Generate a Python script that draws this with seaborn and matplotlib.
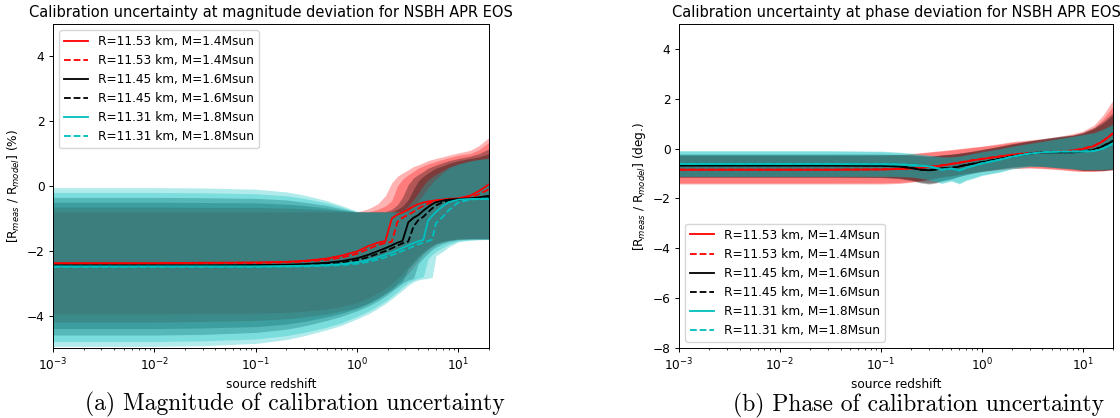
import numpy as np
import matplotlib
matplotlib.use("Agg")
import matplotlib.pyplot as plt
import seaborn as sns

# ---------------- data: magnitude panel ----------------
z_mag = [0.001, 0.003, 0.01, 0.03, 0.1, 0.2, 0.3, 0.5, 0.7, 1.0, 1.3, 1.6, 1.9, 2.2, 2.5,
         2.8, 3.2, 3.6, 4.0, 4.5, 5.0, 5.5, 6.0, 7.0, 8.0, 10.0, 13.0, 16.0, 20.0]

mag_r_med = [-2.38, -2.38, -2.38, -2.37, -2.36, -2.34, -2.31, -2.24, -2.15, -2.02, -1.85, -1.75, -1.70, -1.00, -0.88,
             -0.82, -0.72, -0.63, -0.56, -0.51, -0.48, -0.46, -0.44, -0.42, -0.40, -0.38, -0.30, -0.15, 0.05]
mag_r2_med = [-2.40, -2.40, -2.40, -2.39, -2.38, -2.36, -2.33, -2.28, -2.21, -2.09, -1.94, -1.82, -1.76, -1.72, -1.10,
              -0.98, -0.88, -0.80, -0.70, -0.61, -0.55, -0.50, -0.47, -0.45, -0.43, -0.40, -0.35, -0.25, -0.10]
mag_k_med = [-2.45, -2.45, -2.45, -2.45, -2.44, -2.43, -2.41, -2.37, -2.32, -2.23, -2.12, -2.01, -1.92, -1.83, -1.75,
             -1.70, -1.12, -0.98, -0.90, -0.76, -0.65, -0.56, -0.50, -0.45, -0.42, -0.40, -0.38, -0.35, -0.30]
mag_k2_med = [-2.47, -2.47, -2.47, -2.47, -2.46, -2.45, -2.44, -2.41, -2.37, -2.29, -2.19, -2.09, -2.01, -1.92, -1.84,
              -1.77, -1.71, -1.25, -1.06, -0.95, -0.81, -0.69, -0.60, -0.50, -0.45, -0.42, -0.40, -0.38, -0.35]
mag_c_med = [-2.48, -2.48, -2.48, -2.48, -2.48, -2.47, -2.46, -2.44, -2.41, -2.35, -2.28, -2.20, -2.12, -2.05, -1.98,
             -1.91, -1.83, -1.76, -1.71, -1.66, -1.08, -0.92, -0.80, -0.62, -0.50, -0.42, -0.40, -0.40, -0.40]
mag_c2_med = [-2.50, -2.50, -2.50, -2.50, -2.50, -2.49, -2.48, -2.46, -2.44, -2.40, -2.34, -2.27, -2.20, -2.13, -2.07,
              -2.00, -1.93, -1.86, -1.80, -1.75, -1.70, -1.65, -1.15, -0.95, -0.75, -0.50, -0.42, -0.40, -0.38]

mag_r_hi = [-0.80, -0.80, -0.80, -0.80, -0.80, -0.80, -0.80, -0.80, -0.80, -0.80, -0.70, -0.55, -0.30, 0.10, 0.30,
            0.40, 0.50, 0.60, 0.65, 0.72, 0.78, 0.82, 0.85, 0.90, 0.95, 1.02, 1.10, 1.25, 1.50]
mag_r2_hi = [-0.65, -0.65, -0.65, -0.66, -0.66, -0.68, -0.70, -0.74, -0.77, -0.80, -0.80, -0.72, -0.62, -0.45, 0.00,
             0.20, 0.35, 0.45, 0.55, 0.62, 0.68, 0.72, 0.76, 0.82, 0.87, 0.95, 1.00, 1.12, 1.35]
mag_k_hi = [-0.50, -0.50, -0.50, -0.51, -0.52, -0.56, -0.60, -0.68, -0.75, -0.80, -0.80, -0.80, -0.80, -0.72, -0.58,
            -0.35, 0.05, 0.25, 0.35, 0.45, 0.55, 0.60, 0.65, 0.72, 0.78, 0.85, 0.92, 1.00, 1.15]
mag_k2_hi = [-0.35, -0.35, -0.35, -0.36, -0.38, -0.43, -0.50, -0.60, -0.70, -0.80, -0.80, -0.80, -0.80, -0.80, -0.72,
             -0.62, -0.42, -0.10, 0.15, 0.30, 0.40, 0.48, 0.55, 0.62, 0.70, 0.78, 0.85, 0.90, 1.00]
mag_c_hi = [-0.20, -0.20, -0.20, -0.21, -0.24, -0.30, -0.38, -0.52, -0.65, -0.80, -0.80, -0.80, -0.80, -0.80, -0.80,
            -0.76, -0.62, -0.42, -0.22, 0.02, 0.18, 0.28, 0.36, 0.48, 0.58, 0.68, 0.76, 0.82, 0.86]
mag_c2_hi = [-0.05, -0.05, -0.05, -0.06, -0.10, -0.18, -0.28, -0.45, -0.60, -0.78, -0.80, -0.80, -0.80, -0.80, -0.80,
             -0.80, -0.78, -0.62, -0.46, -0.26, -0.06, 0.10, 0.22, 0.40, 0.55, 0.68, 0.78, 0.82, 0.85]

mag_r_lo = [-3.95, -3.95, -3.95, -3.94, -3.93, -3.90, -3.87, -3.80, -3.72, -3.60, -3.45, -3.30, -3.15, -3.00, -2.85,
            -2.70, -2.50, -2.30, -2.15, -2.00, -1.90, -1.82, -1.76, -1.70, -1.66, -1.62, -1.62, -1.62, -1.62]
mag_r2_lo = [-4.20, -4.20, -4.20, -4.18, -4.15, -4.10, -4.04, -3.95, -3.86, -3.74, -3.60, -3.45, -3.30, -3.15, -3.00,
             -2.85, -2.70, -2.50, -2.30, -2.10, -1.98, -1.88, -1.80, -1.73, -1.68, -1.64, -1.63, -1.63, -1.63]
mag_k_lo = [-4.40, -4.40, -4.40, -4.38, -4.34, -4.26, -4.18, -4.04, -3.93, -3.78, -3.63, -3.48, -3.33, -3.20, -3.05,
            -2.95, -2.55, -2.38, -2.22, -2.06, -1.95, -1.85, -1.79, -1.72, -1.68, -1.64, -1.63, -1.63, -1.63]
mag_k2_lo = [-4.60, -4.60, -4.60, -4.58, -4.52, -4.42, -4.32, -4.15, -4.02, -3.85, -3.70, -3.55, -3.40, -3.25, -3.12,
             -3.00, -2.90, -2.85, -2.40, -2.22, -2.08, -1.96, -1.88, -1.78, -1.72, -1.66, -1.64, -1.64, -1.64]
mag_c_lo = [-4.80, -4.80, -4.80, -4.78, -4.72, -4.62, -4.52, -4.36, -4.22, -4.02, -3.86, -3.70, -3.55, -3.40, -3.26,
            -3.12, -2.98, -2.90, -2.85, -2.80, -2.25, -2.12, -2.02, -1.90, -1.80, -1.70, -1.66, -1.65, -1.65]
mag_c2_lo = [-4.95, -4.95, -4.95, -4.93, -4.86, -4.74, -4.62, -4.44, -4.30, -4.10, -3.94, -3.78, -3.63, -3.48, -3.34,
             -3.22, -3.06, -2.96, -2.90, -2.87, -2.85, -2.82, -2.15, -2.02, -1.88, -1.72, -1.68, -1.66, -1.65]

# ---------------- data: phase panel ----------------
z_phase = [0.001, 0.003, 0.01, 0.03, 0.1, 0.15, 0.2, 0.25, 0.3, 0.35, 0.4, 0.5, 0.6, 0.7, 0.85, 1.0,
           1.5, 2.0, 3.0, 4.0, 6.0, 8.0, 10.0, 13.0, 16.0, 20.0]

ph_r_med = [-0.85, -0.85, -0.85, -0.85, -0.84, -0.82, -0.80, -0.77, -0.74, -0.71, -0.68, -0.62, -0.57, -0.52, -0.46,
            -0.42, -0.32, -0.25, -0.18, -0.15, -0.12, -0.08, -0.02, 0.10, 0.30, 0.60]
ph_r2_med = [-0.84, -0.84, -0.84, -0.84, -0.83, -0.81, -0.79, -0.76, -0.73, -0.70, -0.67, -0.61, -0.56, -0.51, -0.45,
             -0.41, -0.31, -0.24, -0.17, -0.14, -0.11, -0.07, 0.00, 0.12, 0.32, 0.62]
ph_k_med = [-0.68, -0.68, -0.68, -0.68, -0.69, -0.72, -0.78, -0.85, -0.87, -0.84, -0.80, -0.78, -0.72, -0.66, -0.60,
            -0.55, -0.42, -0.32, -0.20, -0.15, -0.15, -0.15, -0.12, -0.05, 0.10, 0.30]
ph_k2_med = [-0.67, -0.67, -0.67, -0.67, -0.68, -0.71, -0.77, -0.84, -0.86, -0.83, -0.79, -0.77, -0.71, -0.65, -0.59,
             -0.54, -0.41, -0.31, -0.19, -0.14, -0.14, -0.14, -0.11, -0.04, 0.11, 0.32]
ph_c_med = [-0.62, -0.62, -0.62, -0.62, -0.63, -0.64, -0.66, -0.69, -0.72, -0.78, -0.85, -0.80, -0.88, -0.78, -0.68,
            -0.60, -0.45, -0.33, -0.20, -0.15, -0.12, -0.12, -0.12, -0.10, 0.00, 0.20]
ph_c2_med = [-0.61, -0.61, -0.61, -0.61, -0.62, -0.63, -0.65, -0.68, -0.71, -0.77, -0.84, -0.79, -0.87, -0.77, -0.67,
             -0.59, -0.44, -0.32, -0.19, -0.14, -0.11, -0.11, -0.11, -0.09, 0.01, 0.21]

ph_r_hi = [-0.27, -0.27, -0.27, -0.27, -0.26, -0.24, -0.20, -0.16, -0.13, -0.10, -0.08, -0.04, 0.00, 0.03, 0.07,
           0.10, 0.20, 0.28, 0.35, 0.40, 0.50, 0.60, 0.70, 0.95, 1.35, 1.95]
ph_r2_hi = [-0.28, -0.28, -0.28, -0.28, -0.27, -0.25, -0.22, -0.18, -0.15, -0.12, -0.10, -0.06, -0.02, 0.01, 0.05,
            0.08, 0.17, 0.25, 0.32, 0.37, 0.46, 0.55, 0.64, 0.85, 1.20, 1.70]
ph_k_hi = [-0.22, -0.22, -0.22, -0.22, -0.22, -0.23, -0.25, -0.28, -0.30, -0.28, -0.25, -0.22, -0.18, -0.14, -0.08,
           -0.03, 0.10, 0.20, 0.32, 0.40, 0.50, 0.55, 0.65, 0.85, 1.10, 1.45]
ph_k2_hi = [-0.23, -0.23, -0.23, -0.23, -0.23, -0.24, -0.26, -0.29, -0.31, -0.29, -0.26, -0.23, -0.19, -0.15, -0.10,
            -0.05, 0.08, 0.18, 0.30, 0.38, 0.48, 0.53, 0.62, 0.80, 1.02, 1.35]
ph_c_hi = [-0.08, -0.08, -0.08, -0.08, -0.10, -0.14, -0.18, -0.22, -0.26, -0.30, -0.33, -0.33, -0.30, -0.25, -0.18,
           -0.12, 0.00, 0.10, 0.22, 0.30, 0.42, 0.50, 0.57, 0.65, 0.80, 1.00]
ph_c2_hi = [-0.10, -0.10, -0.10, -0.10, -0.12, -0.16, -0.20, -0.24, -0.28, -0.31, -0.34, -0.34, -0.31, -0.26, -0.20,
            -0.14, -0.02, 0.08, 0.20, 0.28, 0.40, 0.48, 0.55, 0.63, 0.76, 0.95]

ph_r_lo = [-1.42, -1.42, -1.42, -1.42, -1.42, -1.40, -1.35, -1.30, -1.25, -1.20, -1.15, -1.10, -1.05, -1.00, -0.95,
           -0.92, -0.85, -0.80, -0.78, -0.80, -0.85, -0.90, -0.92, -0.92, -0.90, -0.85]
ph_r2_lo = [-1.38, -1.38, -1.38, -1.38, -1.38, -1.36, -1.32, -1.27, -1.22, -1.17, -1.12, -1.07, -1.02, -0.98, -0.93,
            -0.90, -0.83, -0.78, -0.76, -0.78, -0.83, -0.88, -0.90, -0.90, -0.88, -0.83]
ph_k_lo = [-1.15, -1.15, -1.15, -1.15, -1.16, -1.20, -1.28, -1.38, -1.42, -1.38, -1.30, -1.22, -1.12, -1.05, -0.98,
           -0.92, -0.82, -0.75, -0.70, -0.72, -0.78, -0.82, -0.88, -0.88, -0.88, -0.85]
ph_k2_lo = [-1.13, -1.13, -1.13, -1.13, -1.14, -1.18, -1.25, -1.34, -1.38, -1.35, -1.28, -1.20, -1.10, -1.03, -0.96,
            -0.90, -0.80, -0.73, -0.68, -0.70, -0.76, -0.80, -0.86, -0.86, -0.86, -0.83]
ph_c_lo = [-1.12, -1.12, -1.12, -1.12, -1.12, -1.13, -1.15, -1.20, -1.26, -1.32, -1.40, -1.30, -1.42, -1.28, -1.18,
           -1.08, -0.95, -0.82, -0.72, -0.72, -0.78, -0.82, -0.85, -0.85, -0.85, -0.82]
ph_c2_lo = [-1.10, -1.10, -1.10, -1.10, -1.10, -1.11, -1.13, -1.18, -1.24, -1.30, -1.37, -1.28, -1.38, -1.25, -1.15,
            -1.06, -0.93, -0.80, -0.70, -0.70, -0.76, -0.80, -0.83, -0.83, -0.83, -0.80]

labels = ["R=11.53 km, M=1.4Msun", "R=11.53 km, M=1.4Msun",
          "R=11.45 km, M=1.6Msun", "R=11.45 km, M=1.6Msun",
          "R=11.31 km, M=1.8Msun", "R=11.31 km, M=1.8Msun"]

titles = ["Calibration uncertainty at magnitude deviation for NSBH APR EOS",
          "Calibration uncertainty at phase deviation for NSBH APR EOS"]
ylabels = [r"[R$_{meas}$ / R$_{model}$] (%)", r"[R$_{meas}$ / R$_{model}$] (deg.)"]
captions = ["(a) Magnitude of calibration uncertainty", "(b) Phase of calibration uncertainty"]

# ---------------- styling ----------------
colors = ["red", "red", "black", "black", "c", "c"]
styles = ["-", "--", "-", "--", "-", "--"]

S = 0.875  # panels are default-size matplotlib figures scaled down
plt.rcParams.update({
    "axes.linewidth": 0.8 * S,
    "xtick.major.size": 3.5 * S, "ytick.major.size": 3.5 * S,
    "xtick.minor.size": 2.0 * S, "ytick.minor.size": 2.0 * S,
    "xtick.major.width": 0.8 * S, "ytick.major.width": 0.8 * S,
    "xtick.minor.width": 0.6 * S, "ytick.minor.width": 0.6 * S,
    "xtick.major.pad": 3.5 * S, "ytick.major.pad": 3.5 * S,
    "axes.titlepad": 6.0 * S, "axes.labelpad": 4.0 * S,
})

mag_meds = [mag_r_med, mag_r2_med, mag_k_med, mag_k2_med, mag_c_med, mag_c2_med]
mag_his = [mag_r_hi, mag_r2_hi, mag_k_hi, mag_k2_hi, mag_c_hi, mag_c2_hi]
mag_los = [mag_r_lo, mag_r2_lo, mag_k_lo, mag_k2_lo, mag_c_lo, mag_c2_lo]
ph_meds = [ph_r_med, ph_r2_med, ph_k_med, ph_k2_med, ph_c_med, ph_c2_med]
ph_his = [ph_r_hi, ph_r2_hi, ph_k_hi, ph_k2_hi, ph_c_hi, ph_c2_hi]
ph_los = [ph_r_lo, ph_r2_lo, ph_k_lo, ph_k2_lo, ph_c_lo, ph_c2_lo]

fig = plt.figure(figsize=(11.2, 4.18), dpi=100)
W, H = 1120.0, 418.0
ax1 = fig.add_axes([53 / W, 70 / H, 436 / W, 324 / H])
ax2 = fig.add_axes([679 / W, 70 / H, 434 / W, 324 / H])


def draw(ax, z, meds, his, los, ylim, legloc, title, ylabel):
    for lo, hi, col in zip(los, his, colors):
        ax.fill_between(z, lo, hi, color=col, alpha=0.3, linewidth=0)
    for med, col, ls, lab in zip(meds, colors, styles, labels):
        sns.lineplot(x=z, y=med, ax=ax, color=col, linestyle=ls, linewidth=1.5 * S, label=lab)
    ax.set_xscale("log")
    ax.set_xlim(1e-3, 20)
    ax.set_ylim(*ylim)
    ax.set_title(title, fontsize=12 * S)
    ax.set_xlabel("source redshift", fontsize=10 * S)
    ax.set_ylabel(ylabel, fontsize=10 * S)
    ax.tick_params(labelsize=10 * S)
    ax.legend(loc=legloc, fontsize=10 * S, handlelength=2.0)


draw(ax1, z_mag, mag_meds, mag_his, mag_los, (-5, 5), "upper left", titles[0], ylabels[0])
draw(ax2, z_phase, ph_meds, ph_his, ph_los, (-8, 5), "lower left", titles[1], ylabels[1])
ax2.set_yticks([-8, -6, -4, -2, 0, 2, 4])

fig.text(295 / W, 1 - 404 / H, captions[0], fontfamily="cmr10", fontsize=17, ha="center", va="center")
fig.text(919 / W, 1 - 405 / H, captions[1], fontfamily="cmr10", fontsize=17, ha="center", va="center")

fig.savefig("out.png", dpi=100)
